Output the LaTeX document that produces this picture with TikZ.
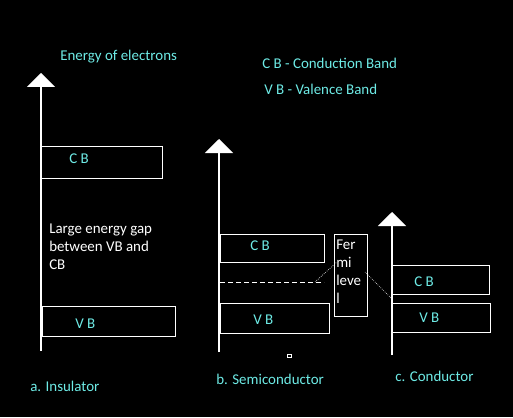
\documentclass[tikz,border=0pt]{standalone}
\usepackage{fontspec}
\setmainfont{Carlito}
\usepackage{xcolor}
\usepackage{tikz}
\usetikzlibrary{arrows.meta}
\definecolor{bandtext}{RGB}{110,235,230}
\definecolor{bg}{RGB}{0,0,0}

\begin{document}
\begin{tikzpicture}[x=0.75pt,y=-0.75pt,
  axis/.style={white,line width=0.9pt,-{Triangle[width=21pt,length=10.5pt]}},
  bandbox/.style={draw=white,line width=0.9pt,inner sep=0pt,anchor=north west},
  lbl/.style={text=bandtext,font=\fontsize{11.2}{13.5}\selectfont,anchor=west,inner sep=0pt},
  note/.style={lbl,text=white,align=left}]
\fill[bg] (0,0) rectangle (513,417);
\useasboundingbox (0,0) rectangle (513,417);
\node[lbl] (title) at (60,57) {Energy of electrons};
\node[lbl] (keycb) at (262,63) {C B - Conduction Band};
\node[lbl] (keyvb) at (264,89) {V B - Valence Band};
\begin{scope}
\coordinate (ibot) at (41,351);
\coordinate (itop) at (41,73);
\draw[axis] (ibot) -- (itop);
\node[bandbox,minimum width=90.75pt,minimum height=24pt] (icb) at (41,146) {};
\node[bandbox,minimum width=99.75pt,minimum height=22.5pt] (ivb) at (42,306) {};
\node[lbl] (icbtext) at (69,159) {C B};
\node[lbl] (ivbtext) at (75,324) {V B};
\node[note] (gap) at (49,247) {Large energy gap\\between VB and\\CB};
\node[lbl] (ilabel) at (30,386) {a. Insulator};
\end{scope}
\begin{scope}
\coordinate (sbot) at (219,352);
\coordinate (stop) at (219,139);
\draw[axis] (sbot) -- (stop);
\node[bandbox,minimum width=78pt,minimum height=21pt] (scb) at (220,234) {};
\node[bandbox,minimum width=81.75pt,minimum height=22.5pt] (svb) at (220,303) {};
\node[lbl] (scbtext) at (250,246) {C B};
\node[lbl] (svbtext) at (253,320) {V B};
\coordinate (dstart) at (220,282);
\coordinate (dend) at (324,282);
\draw[white,line width=0.6pt,dash pattern=on 3.5pt off 2.5pt] (dstart) -- (dend);
\node[bandbox,minimum width=24.75pt,minimum height=61.5pt] (fermi) at (334,234) {};
\node[note] (fermitext) at (336,272) {Fer\\mi\\leve\\l};
\coordinate (fleft) at (315,282);
\coordinate (fin) at (337,262);
\draw[white,line width=0.5pt,densely dotted] (fleft) -- (fin);
\draw[white,line width=0.6pt] (287,354) rectangle (291,357);
\node[lbl] (slabel) at (216,379) {b. Semiconductor};
\end{scope}
\begin{scope}
\coordinate (cbot) at (392,355);
\coordinate (ctop) at (392,212);
\draw[axis] (cbot) -- (ctop);
\node[bandbox,minimum width=72.75pt,minimum height=21.75pt] (ccb) at (392,265) {};
\node[bandbox,minimum width=73.5pt,minimum height=21.75pt] (cvb) at (392,303) {};
\node[lbl] (ccbtext) at (414,282) {C B};
\node[lbl] (cvbtext) at (419,318) {V B};
\coordinate (fout) at (365,272);
\coordinate (cmeet) at (392,299);
\draw[white,line width=0.5pt,densely dotted] (fout) -- (cmeet);
\node[lbl] (clabel) at (395,376) {c. Conductor};
\end{scope}
\end{tikzpicture}
\end{document}
